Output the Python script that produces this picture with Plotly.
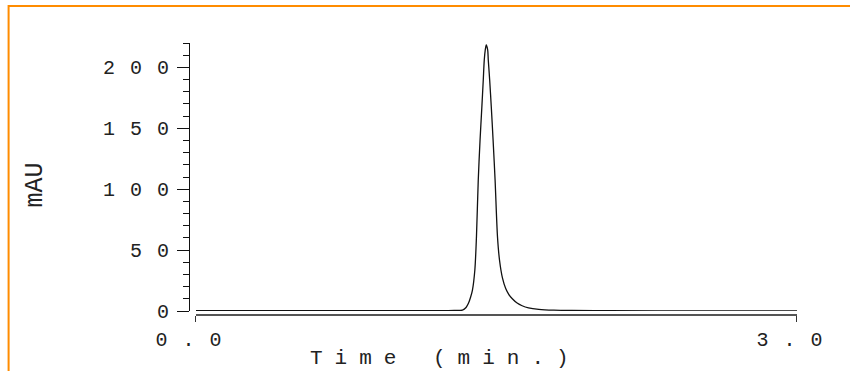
import plotly.graph_objects as go

# Chromatogram trace: retention time (min) vs absorbance (mAU)
time_min = [0.0, 1.214, 1.289, 1.330, 1.348, 1.360, 1.371, 1.380, 1.392, 1.400,
            1.409, 1.418, 1.427, 1.434, 1.439, 1.444, 1.449, 1.456, 1.459, 1.466,
            1.474, 1.483, 1.493, 1.505, 1.515, 1.530, 1.546, 1.562, 1.579, 1.603,
            1.628, 1.660, 1.711, 1.786, 1.877, 2.060, 2.507, 3.0]
absorbance_mau = [0.2, 0.2, 0.4, 0.8, 2.9, 6.3, 11.5, 17.2, 33.7, 61.0,
                  107.5, 140.4, 167.7, 189.6, 206.0, 214.3, 218.4, 214.3, 206.0, 189.6,
                  167.7, 140.4, 107.5, 61.0, 41.9, 27.0, 18.5, 13.5, 10.0, 6.5,
                  4.3, 2.6, 1.4, 0.7, 0.4, 0.2, 0.15, 0.1]

y_tickvals = [0, 50, 100, 150, 200]
y_ticklabels = ["0", "50", "100", "150", "200"]
x_tickvals = [0.0, 3.0]
x_ticklabels = ["0.0", "3.0"]

FONT = "Liberation Mono"
INK = "#222222"


def spaced(text, px):
    return f'<span style="letter-spacing:{px}px">{text}</span>'


def spaced_tight(text, px):
    # letter spacing between characters only, none after the last one
    if len(text) < 2:
        return text
    return spaced(text[:-1], px) + text[-1]


W, H = 850, 371
L, R, T, B = 189, 51, 43, 56
PW, PH = W - L - R, H - T - B


def px_x(x):
    return (x - L) / PW


def px_y(y):
    return (H - B - y) / PH


fig = go.Figure()
fig.add_trace(go.Scatter(
    x=time_min, y=absorbance_mau, mode="lines",
    line=dict(color="#111111", width=1.3, shape="spline", smoothing=0.8),
    hoverinfo="skip", showlegend=False,
))

fig.update_layout(
    width=W, height=H,
    margin=dict(l=L, r=R, t=T, b=B, pad=0),
    paper_bgcolor="white", plot_bgcolor="white",
    showlegend=False,
)

fig.update_xaxes(
    range=[0, 3], domain=[px_x(196), 1], anchor="free", position=0,
    showline=True, linecolor="#555555", linewidth=1.5,
    ticks="outside", ticklen=6, tickcolor="#333333", tickwidth=1,
    tickvals=x_tickvals, ticktext=[spaced(t, 15) for t in x_ticklabels],
    tickfont=dict(family=FONT, size=20, color=INK),
    showgrid=False, zeroline=False,
)

fig.update_yaxes(
    range=[0, 220], domain=[px_y(311), 1], anchor="free", position=0,
    showline=True, linecolor="#111111", linewidth=1,
    ticks="outside", ticklen=12, tickcolor="#111111", tickwidth=1,
    tickvals=y_tickvals, ticktext=[spaced_tight(t, 15) for t in y_ticklabels],
    tickfont=dict(family=FONT, size=20, color=INK),
    ticklabelstandoff=4,
    minor=dict(dtick=10, tick0=0, ticks="outside", ticklen=6,
               tickcolor="#111111", tickwidth=1, showgrid=False),
    showgrid=False, zeroline=False,
)

# Axis titles
fig.add_annotation(
    text="mAU", xref="paper", yref="paper",
    x=px_x(35), y=px_y(185), xanchor="center", yanchor="middle",
    textangle=-90, showarrow=False,
    font=dict(family=FONT, size=25, color=INK),
)
fig.add_annotation(
    text=spaced_tight("Time (min.)", 12), xref="paper", yref="paper",
    x=px_x(440), y=px_y(358), xanchor="center", yanchor="middle",
    showarrow=False,
    font=dict(family=FONT, size=21, color=INK),
)

# Orange frame running off the right and bottom edges
fig.add_shape(
    type="rect", xref="paper", yref="paper",
    x0=px_x(8), y0=px_y(6), x1=px_x(900), y1=px_y(420),
    line=dict(color="#FF8C00", width=2), fillcolor="rgba(0,0,0,0)", layer="below",
)

fig.write_html("out.html")
